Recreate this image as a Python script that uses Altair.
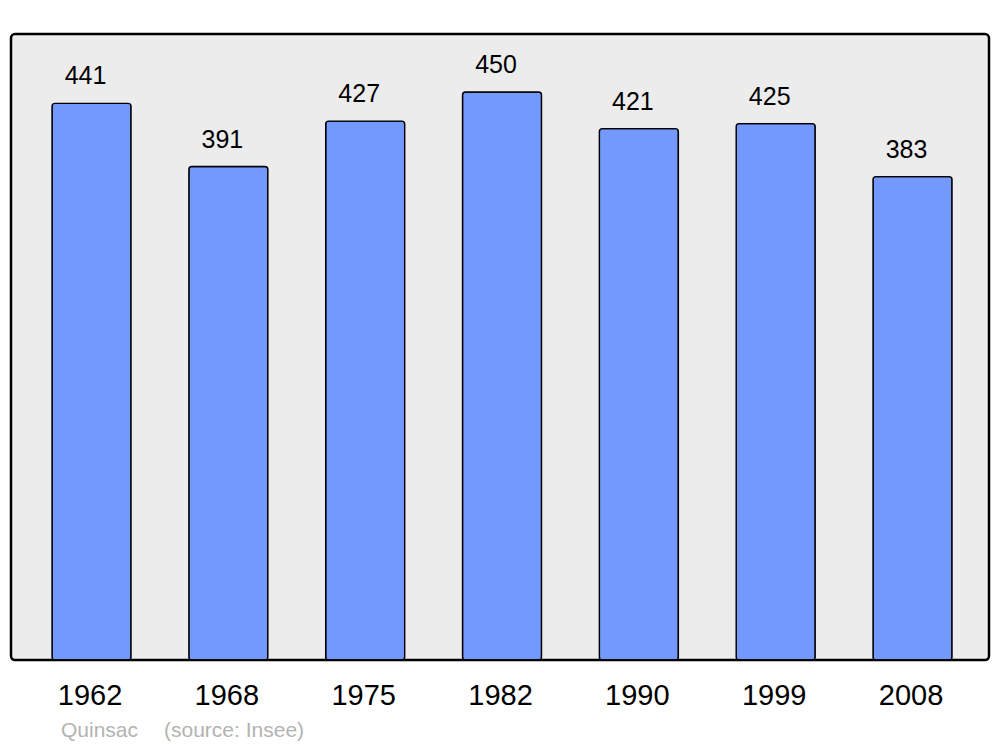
import altair as alt
import pandas as pd

years = ["1962", "1968", "1975", "1982", "1990", "1999", "2008"]
population = [441, 391, 427, 450, 421, 425, 383]
footer_texts = ["Quinsac", "(source: Insee)"]

df = pd.DataFrame({"year": years, "pop": population})

W, H = 978, 626
FONT = "Liberation Sans"

x = alt.X(
    "year:N",
    sort=years,
    scale=alt.Scale(type="band", paddingInner=0.4226, paddingOuter=0.285, align=0.526),
    axis=alt.Axis(
        title=None, ticks=False, tickSize=0, domain=False, labelAngle=0,
        labelFontSize=29, labelFont=FONT, labelColor="black",
        labelBaseline="alphabetic", labelPadding=44, labelOffset=-1.5,
    ),
)
y = alt.Y("pop:Q", scale=alt.Scale(domain=[0, 496], nice=False), axis=None)

bars = alt.Chart(df).mark_bar(
    color="#7399ff", stroke="black", strokeWidth=1.4, cornerRadius=3
).encode(x=x, y=y)

labels = alt.Chart(df).mark_text(
    font=FONT, fontSize=25, color="black", baseline="alphabetic", dy=-19, dx=-6
).encode(x=x, y=y, text="pop:Q")

footer1 = alt.Chart(pd.DataFrame({"t": [footer_texts[0]]})).mark_text(
    font=FONT, fontSize=21, color="#b3b3b3", align="left", baseline="alphabetic"
).encode(x=alt.value(50), y=alt.value(H + 77), text="t:N")

footer2 = alt.Chart(pd.DataFrame({"t": [footer_texts[1]]})).mark_text(
    font=FONT, fontSize=21, color="#b3b3b3", align="left", baseline="alphabetic"
).encode(x=alt.value(153), y=alt.value(H + 77), text="t:N")

chart = alt.layer(bars, labels, footer1, footer2).properties(
    width=W, height=H, autosize="none",
    padding={"left": 3, "top": 26, "right": 3, "bottom": 90},
    background="white",
).configure_view(
    fill="#ececec", stroke="black", strokeWidth=2.5, cornerRadius=4
)

chart.save("out.html", embed_options={"renderer": "svg", "actions": False})
